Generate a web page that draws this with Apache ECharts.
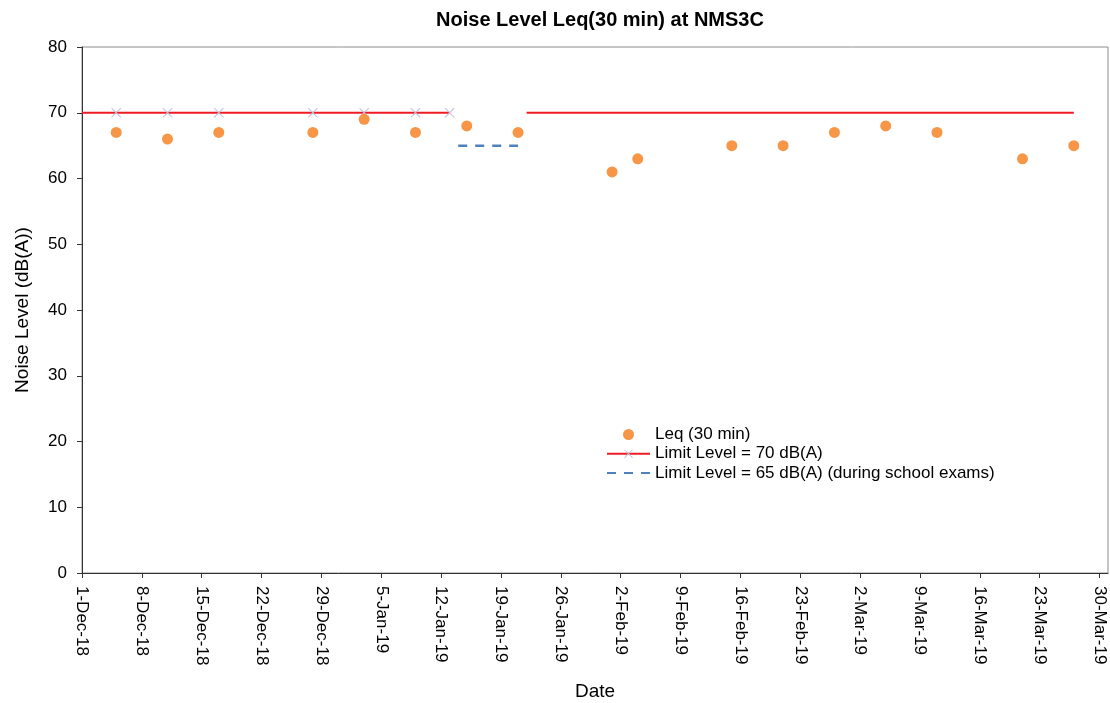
<!DOCTYPE html>
<html>
<head>
<meta charset="utf-8">
<script src="https://cdn.jsdelivr.net/npm/echarts@6/dist/echarts.min.js"></script>
<style>
html,body{margin:0;padding:0;background:#fff;}
#chart{width:1110px;height:703px;}
</style>
</head>
<body>
<div id="chart"></div>
<script>
// ---- Data ----
var leqDates = ['2018-12-05','2018-12-11','2018-12-17','2018-12-28','2019-01-03','2019-01-09','2019-01-15','2019-01-21',
                '2019-02-01','2019-02-04','2019-02-15','2019-02-21','2019-02-27','2019-03-05','2019-03-11','2019-03-21','2019-03-27'];
var leqValues = [67, 66, 67, 67, 69, 67, 68, 67, 61, 63, 65, 65, 67, 68, 67, 63, 65];

var limit70DatesA = ['2018-12-01','2018-12-05','2018-12-11','2018-12-17','2018-12-28','2019-01-03','2019-01-09','2019-01-13'];
var limit70DatesB = ['2019-01-22','2019-03-27'];
var limit70Value = 70;

var limit65Dates = ['2019-01-14','2019-01-21'];
var limit65Value = 65;

var axisStart = '2018-12-01';
var axisEnd = '2019-03-31';
var tickDays = 7;
var monthNames = ['Jan','Feb','Mar','Apr','May','Jun','Jul','Aug','Sep','Oct','Nov','Dec'];

function ts(s){ return new Date(s + 'T00:00:00Z').getTime(); }
var DAY = 86400000;

var leqData = leqDates.map(function(d,i){ return [ts(d), leqValues[i]]; });
var lim70Data = [];
limit70DatesA.forEach(function(d,i){
  var item = {value:[ts(d), limit70Value]};
  if (i === 0) item.symbol = 'none';
  lim70Data.push(item);
});
lim70Data.push({value:[ (ts(limit70DatesA[limit70DatesA.length-1]) + ts(limit70DatesB[0]))/2, null ], symbol:'none'});
limit70DatesB.forEach(function(d){ lim70Data.push({value:[ts(d), limit70Value], symbol:'none'}); });
var lim65Data = limit65Dates.map(function(d){ return [ts(d), limit65Value]; });

var xMark = 'path://M0,0.7L0.7,0L5,4.3L9.3,0L10,0.7L5.7,5L10,9.3L9.3,10L5,5.7L0.7,10L0,9.3L4.3,5Z';
var FONT = 'Liberation Sans, Arial, sans-serif';

var chart = echarts.init(document.getElementById('chart'), null, {renderer:'canvas'});
chart.setOption({
  animation:false,
  backgroundColor:'#fff',
  title:{
    text:'Noise Level Leq(30 min) at NMS3C',
    left:595, top:5, textAlign:'center',
    textStyle:{fontFamily:FONT, fontSize:20, fontWeight:'bold', color:'#000'}
  },
  grid:{left:82, right:2, top:47, bottom:130, show:true, borderColor:'#8c8c8c', borderWidth:1,
        containLabel:false, outerBoundsMode:'none'},
  legend:{
    orient:'vertical', left:601, top:421,
    itemWidth:43, itemHeight:11, itemGap:2.3,
    textStyle:{fontFamily:FONT, fontSize:17, color:'#000'},
    data:[
      {name:'Leq (30 min)', icon:'circle', itemStyle:{color:'#f79646', opacity:1}},
      {name:'Limit Level = 70 dB(A)'},
      {name:'Limit Level = 65 dB(A) (during school exams)', itemStyle:{opacity:0}}
    ]
  },
  xAxis:{
    type:'value',
    min:ts(axisStart), max:ts(axisEnd), interval:tickDays*DAY,
    name:'Date', nameLocation:'middle', nameGap:109,
    nameTextStyle:{fontFamily:FONT, fontSize:19, color:'#000'},
    axisLine:{show:true, onZero:false, lineStyle:{color:'#333', width:1}},
    axisTick:{show:true, length:5, lineStyle:{color:'#333'}},
    splitLine:{show:false},
    axisLabel:{
      rotate:-90, margin:13, fontFamily:FONT, fontSize:17, color:'#000',
      showMaxLabel:false,
      formatter:function(v){
        var d = new Date(v);
        var off = Math.round((v - ts(axisStart))/DAY);
        if (off % tickDays !== 0) return '';
        return d.getUTCDate() + '-' + monthNames[d.getUTCMonth()] + '-' + String(d.getUTCFullYear()).slice(2);
      }
    }
  },
  yAxis:{
    type:'value', min:0, max:80, interval:10,
    name:'Noise Level (dB(A))', nameLocation:'middle', nameGap:50,
    nameTextStyle:{fontFamily:FONT, fontSize:19, color:'#000'},
    axisLine:{show:true, lineStyle:{color:'#333', width:1}},
    axisTick:{show:true, length:5, lineStyle:{color:'#333'}},
    splitLine:{show:false},
    axisLabel:{fontFamily:FONT, fontSize:17, color:'#000', margin:15}
  },
  series:[
    {
      name:'Limit Level = 70 dB(A)', type:'line', data:lim70Data,
      connectNulls:false,
      symbol:xMark, symbolSize:10, showSymbol:true,
      itemStyle:{color:'#c4bfdc'},
      lineStyle:{color:'#ee1c25', width:2},
      z:2
    },
    {
      name:'Limit Level = 65 dB(A) (during school exams)', type:'line', data:lim65Data,
      symbol:'none', showSymbol:false,
      itemStyle:{color:'#4f81bd'},
      lineStyle:{color:'#4f81bd', width:2.5, type:[9,8]},
      z:2
    },
    {
      name:'Leq (30 min)', type:'scatter', data:leqData,
      symbol:'circle', symbolSize:11,
      itemStyle:{color:'#f79646', opacity:1},
      z:3
    }
  ]
});
</script>
</body>
</html>
